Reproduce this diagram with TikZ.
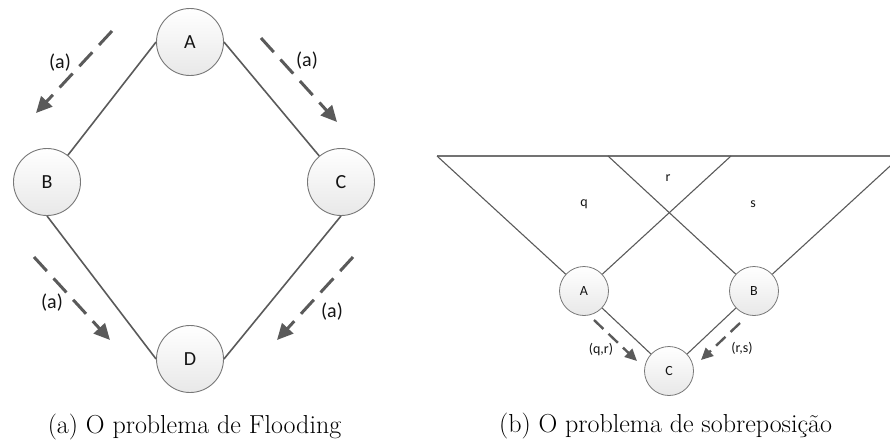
\documentclass[tikz,border=0pt]{standalone}
\usepackage{fontspec}
\newfontfamily\calib{Carlito}
\usetikzlibrary{arrows.meta}
\definecolor{edgec}{RGB}{90,90,90}
\definecolor{nodeb}{RGB}{120,120,120}
\definecolor{nodebot}{RGB}{232,232,232}
\definecolor{txtc}{RGB}{20,20,20}
\tikzset{
  bignode/.style={circle,draw=nodeb,line width=0.9pt,top color=white,bottom color=nodebot,minimum size=67pt,inner sep=0pt,font=\calib\fontsize{20}{24}\selectfont,text=txtc},
  smallnode/.style={circle,draw=nodeb,line width=0.8pt,top color=white,bottom color=nodebot,minimum size=49pt,inner sep=0pt,font=\calib\fontsize{14}{17}\selectfont,text=txtc},
  link/.style={draw=edgec,line width=1.6pt},
  thinlink/.style={draw=edgec,line width=1.1pt},
  flow/.style={draw=edgec,line width=3pt,dash pattern=on 19pt off 10pt,-{Triangle[length=16pt,width=15pt]}},
  smallflow/.style={draw=edgec,line width=2.4pt,dash pattern=on 13pt off 7pt,-{Triangle[length=12pt,width=11pt]}},
  biglabel/.style={font=\calib\fontsize{20}{24}\selectfont,text=txtc,inner sep=0pt},
  smalllabel/.style={font=\calib\fontsize{14}{17}\selectfont,text=txtc,inner sep=0pt},
  captionlabel/.style={font=\fontsize{26}{30}\selectfont,anchor=base,inner sep=0pt}
}
\begin{document}
\begin{tikzpicture}[x=1pt,y=-1pt]
\useasboundingbox (0,0) rectangle (890,445);
\clip (0,0) rectangle (890,445);
% ---- left diagram ----
\node[bignode] (A) at (190,42) {A};
\node[bignode] (B) at (47,182) {B};
\node[bignode] (C) at (341,182) {C};
\node[bignode] (D) at (190,359) {D};
\draw[link] (A.west) -- (B);
\draw[link] (A.east) -- (C);
\draw[link] (B.south) -- (D.west);
\draw[link] (C.south) -- (D.east);
\coordinate (ul1) at (112,31); \coordinate (ul2) at (36,113);
\coordinate (ur1) at (261,38); \coordinate (ur2) at (337,122);
\coordinate (ll1) at (34,257); \coordinate (ll2) at (110,340);
\coordinate (lr1) at (353,257); \coordinate (lr2) at (277,340);
\draw[flow] (ul1) -- (ul2);
\draw[flow] (ur1) -- (ur2);
\draw[flow] (ll1) -- (ll2);
\draw[flow] (lr1) -- (lr2);
\node[biglabel] (la1) at (60,63) {(a)};
\node[biglabel] (la2) at (307,61) {(a)};
\node[biglabel] (la3) at (52,303) {(a)};
\node[biglabel] (la4) at (332,312) {(a)};
% ---- right diagram ----
\node[smallnode] (RA) at (584,291) {A};
\node[smallnode] (RB) at (754,291) {B};
\node[smallnode] (RC) at (669,371) {C};
\coordinate (t1) at (437,156);
\coordinate (t2) at (608,156);
\coordinate (t3) at (731,156);
\coordinate (t4) at (901,156);
\draw[draw=edgec!85,line width=2.2pt] (t1) -- (t4);
\draw[thinlink] (t1) -- (RA);
\draw[thinlink] (t2) -- (RB);
\draw[thinlink] (t3) -- (RA);
\draw[thinlink] (t4) -- (RB);
\draw[thinlink] (RA) -- (RC);
\draw[thinlink] (RB) -- (RC);
\coordinate (qa1) at (594,320); \coordinate (qa2) at (637,361);
\coordinate (rb1) at (740,323); \coordinate (rb2) at (701,360);
\draw[smallflow] (qa1) -- (qa2);
\draw[smallflow] (rb1) -- (rb2);
\node[smalllabel] (lqr) at (601,349) {(q,r)};
\node[smalllabel] (lrs) at (742,348) {(r,s)};
\node[smalllabel] (lr) at (668,178) {r};
\node[smalllabel] (lq) at (584,204) {q};
\node[smalllabel] (ls) at (753,204) {s};
% ---- captions ----
\node[captionlabel] (capa) at (194.5,433) {(a) O problema de Flooding};
\node[captionlabel] (capb) at (665.5,432) {(b) O problema de sobreposição};
\end{tikzpicture}
\end{document}
